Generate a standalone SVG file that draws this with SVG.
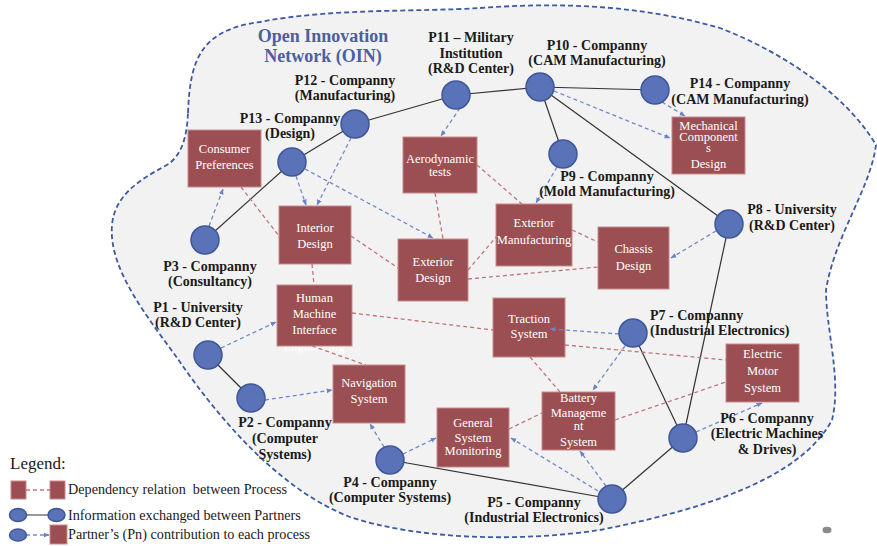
<svg xmlns="http://www.w3.org/2000/svg" width="877" height="546" viewBox="0 0 877 546">
<defs>
<style>
.box{fill:#9b4f52;stroke:#c98a8c;stroke-width:1}
.pt{fill:#5a72b8;stroke:#3f5799;stroke-width:1.5}
.lk{stroke:#333;stroke-width:1.2;fill:none}
.dep{stroke:#c27578;stroke-width:1.3;stroke-dasharray:4 3;fill:none}
.con{stroke:#7089cc;stroke-width:1.3;stroke-dasharray:4 3;fill:none;marker-end:url(#ah)}
.bt{font-family:"Liberation Serif",serif;font-size:12.5px;fill:#fff;text-anchor:middle}
.pl{font-family:"Liberation Serif",serif;font-size:14px;font-weight:bold;fill:#1a1a1a;text-anchor:middle}
.pls{text-anchor:start}
.lg{font-family:"Liberation Serif",serif;font-size:14.2px;fill:#1a1a1a}
</style>
<marker id="ah" viewBox="0 0 10 10" refX="9" refY="5" markerWidth="6" markerHeight="6" orient="auto" markerUnits="userSpaceOnUse"><path d="M0,1 L10,5 L0,9 Z" fill="#6a84c8"/></marker>
</defs>
<rect width="877" height="546" fill="#fff"/>
<path id="oin" d="M188,113 C190,60 200,30 260,22 C330,8 420,12 480,8 C560,2 640,5 720,28 C790,55 850,100 876,145 C870,190 835,235 826,290 C826,330 842,380 832,420 C800,480 700,510 600,530 C520,542 420,540 350,517 C280,490 220,420 180,362 C150,320 108,270 112,225 C115,190 150,175 170,163 C185,150 187,130 188,113 Z" fill="#f2f2f2" stroke="#3d5aa0" stroke-width="1.8" stroke-dasharray="5 3"/>
<g id="title" font-family="Liberation Serif, serif" font-size="18" font-weight="bold" fill="#4c5fa0" text-anchor="middle">
<text x="323" y="41.5">Open Innovation</text>
<text x="323" y="61.5">Network (OIN)</text>
</g>
<g id="processes">
<g id="consumer"><rect class="box" x="188" y="130" width="73" height="57"/><text class="bt" x="224.5" y="153">Consumer</text><text class="bt" x="224.5" y="169">Preferences</text></g>
<g id="aero"><rect class="box" x="403" y="137" width="74" height="56"/><text class="bt" x="440" y="163">Aerodynamic</text><text class="bt" x="440" y="176">tests</text></g>
<g id="mech"><rect class="box" x="672" y="117" width="73" height="57"/><text class="bt" x="708.5" y="130">Mechanical</text><text class="bt" x="708.5" y="141">Component</text><text class="bt" x="708.5" y="152">s</text><text class="bt" x="708.5" y="168">Design</text></g>
<g id="interior"><rect class="box" x="279" y="206" width="72" height="58"/><text class="bt" x="315" y="232">Interior</text><text class="bt" x="315" y="248">Design</text></g>
<g id="extdesign"><rect class="box" x="398" y="239" width="70" height="62"/><text class="bt" x="433" y="266">Exterior</text><text class="bt" x="433" y="282">Design</text></g>
<g id="extmanuf"><rect class="box" x="496" y="204" width="76" height="62"/><text class="bt" x="534" y="227">Exterior</text><text class="bt" x="534" y="244">Manufacturing</text></g>
<g id="chassis"><rect class="box" x="598" y="227" width="71" height="62"/><text class="bt" x="633.5" y="253">Chassis</text><text class="bt" x="633.5" y="270">Design</text></g>
<g id="hmi"><text class="bt" x="314" y="351">Engineering</text><rect class="box" x="277" y="285" width="75" height="61"/><text class="bt" x="314.5" y="302">Human</text><text class="bt" x="314.5" y="318">Machine</text><text class="bt" x="314.5" y="334">Interface</text></g>
<g id="navigation"><rect class="box" x="333" y="365" width="72" height="58"/><text class="bt" x="369" y="387">Navigation</text><text class="bt" x="369" y="403">System</text></g>
<g id="traction"><rect class="box" x="493" y="298" width="72" height="59"/><text class="bt" x="529" y="323">Traction</text><text class="bt" x="529" y="338">System</text></g>
<g id="motor"><rect class="box" x="726" y="344" width="73" height="58"/><text class="bt" x="762.5" y="358">Electric</text><text class="bt" x="762.5" y="375">Motor</text><text class="bt" x="762.5" y="392">System</text></g>
<g id="gsm"><rect class="box" x="437" y="408" width="72" height="59"/><text class="bt" x="473" y="427">General</text><text class="bt" x="473" y="442">System</text><text class="bt" x="473" y="455">Monitoring</text></g>
<g id="bms"><rect class="box" x="542" y="392" width="73" height="58"/><text class="bt" x="578.5" y="402">Battery</text><text class="bt" x="578.5" y="417">Manageme</text><text class="bt" x="578.5" y="430">nt</text><text class="bt" x="578.5" y="446">System</text></g>
</g>
<g id="connectors">
<g id="info-links">
<line class="lk" x1="205" y1="240" x2="292" y2="162"/>
<line class="lk" x1="292" y1="162" x2="355" y2="124"/>
<line class="lk" x1="355" y1="124" x2="456" y2="95"/>
<line class="lk" x1="456" y1="95" x2="540" y2="87"/>
<line class="lk" x1="540" y1="87" x2="655" y2="90"/>
<line class="lk" x1="540" y1="87" x2="563" y2="154"/>
<line class="lk" x1="540" y1="87" x2="729" y2="224"/>
<line class="lk" x1="729" y1="224" x2="683" y2="438"/>
<line class="lk" x1="633" y1="333" x2="683" y2="438"/>
<line class="lk" x1="683" y1="438" x2="612" y2="499"/>
<line class="lk" x1="612" y1="499" x2="390" y2="460"/>
<line class="lk" x1="208" y1="355" x2="251" y2="398"/>
</g>
<g id="dependencies">
<line class="dep" x1="241" y1="187" x2="279" y2="236"/>
<line class="dep" x1="351" y1="236" x2="398" y2="268"/>
<line class="dep" x1="312" y1="264" x2="314" y2="285"/>
<line class="dep" x1="435" y1="193" x2="443" y2="239"/>
<line class="dep" x1="477" y1="165" x2="522" y2="204"/>
<line class="dep" x1="468" y1="270" x2="497" y2="236"/>
<line class="dep" x1="468" y1="279" x2="598" y2="267"/>
<line class="dep" x1="572" y1="230" x2="598" y2="242"/>
<line class="dep" x1="352" y1="313" x2="493" y2="330"/>
<line class="dep" x1="312" y1="346" x2="366" y2="365"/>
<line class="dep" x1="565" y1="345" x2="726" y2="360"/>
<line class="dep" x1="530" y1="357" x2="560" y2="392"/>
<line class="dep" x1="615" y1="420" x2="726" y2="382"/>
<line class="dep" x1="509" y1="429" x2="542" y2="413"/>
</g>
<g id="contributions">
<line class="con" x1="209" y1="226" x2="223" y2="189"/>
<line class="con" x1="296" y1="176" x2="306" y2="205"/>
<line class="con" x1="305" y1="169" x2="433" y2="238"/>
<line class="con" x1="351" y1="138" x2="317" y2="205"/>
<line class="con" x1="460" y1="108" x2="441" y2="136"/>
<line class="con" x1="554" y1="91" x2="670" y2="138"/>
<line class="con" x1="662" y1="102" x2="685" y2="116"/>
<line class="con" x1="557" y1="167" x2="536" y2="203"/>
<line class="con" x1="716" y1="231" x2="671" y2="258"/>
<line class="con" x1="221" y1="348" x2="276" y2="322"/>
<line class="con" x1="265" y1="400" x2="332" y2="390"/>
<line class="con" x1="384" y1="447" x2="370" y2="424"/>
<line class="con" x1="403" y1="454" x2="436" y2="438"/>
<line class="con" x1="598" y1="491" x2="511" y2="438"/>
<line class="con" x1="606" y1="486" x2="580" y2="451"/>
<line class="con" x1="619" y1="334" x2="550" y2="329"/>
<line class="con" x1="625" y1="346" x2="593" y2="390"/>
<line class="con" x1="696" y1="432" x2="762" y2="403"/>
</g>
</g>
<g id="partners">
<g id="p1"><circle class="pt" cx="208" cy="355" r="14"/><text class="pl" x="198" y="312">P1 - University</text><text class="pl" x="198" y="327">(R&amp;D Center)</text></g>
<g id="p2"><circle class="pt" cx="251" cy="398" r="14"/><text class="pl" x="285" y="427">P2 - Companny</text><text class="pl" x="285" y="443">(Computer</text><text class="pl" x="285" y="459">Systems)</text></g>
<g id="p3"><circle class="pt" cx="205" cy="240" r="14"/><text class="pl" x="210" y="271">P3 - Companny</text><text class="pl" x="210" y="286">(Consultancy)</text></g>
<g id="p4"><circle class="pt" cx="390" cy="460" r="14"/><text class="pl" x="390" y="487">P4 - Companny</text><text class="pl" x="390" y="502">(Computer Systems)</text></g>
<g id="p5"><circle class="pt" cx="612" cy="499" r="14"/><text class="pl" x="534" y="507">P5 - Companny</text><text class="pl" x="534" y="522">(Industrial Electronics)</text></g>
<g id="p6"><circle class="pt" cx="683" cy="438" r="14"/><text class="pl" x="767" y="423">P6 - Companny</text><text class="pl" x="767" y="438">(Electric Machines</text><text class="pl" x="767" y="454">&amp; Drives)</text></g>
<g id="p7"><circle class="pt" cx="633" cy="333" r="14"/><text class="pl pls" x="650" y="320">P7 - Companny</text><text class="pl pls" x="650" y="335">(Industrial Electronics)</text></g>
<g id="p8"><circle class="pt" cx="729" cy="224" r="14"/><text class="pl" x="792" y="214">P8 - University</text><text class="pl" x="792" y="230">(R&amp;D Center)</text></g>
<g id="p9"><circle class="pt" cx="563" cy="154" r="14"/><text class="pl" x="607" y="181">P9 - Companny</text><text class="pl" x="607" y="196">(Mold Manufacturing)</text></g>
<g id="p10"><circle class="pt" cx="540" cy="87" r="14"/><text class="pl" x="597" y="50">P10 - Companny</text><text class="pl" x="597" y="65">(CAM Manufacturing)</text></g>
<g id="p11"><circle class="pt" cx="456" cy="95" r="14"/><text class="pl" x="471" y="42">P11 – Military</text><text class="pl" x="471" y="57.5">Institution</text><text class="pl" x="471" y="73">(R&amp;D Center)</text></g>
<g id="p12"><circle class="pt" cx="355" cy="124" r="14"/><text class="pl" x="345" y="85">P12 - Companny</text><text class="pl" x="345" y="100">(Manufacturing)</text></g>
<g id="p13"><circle class="pt" cx="292" cy="162" r="14"/><text class="pl" x="290" y="123">P13 - Companny</text><text class="pl" x="290" y="138">(Design)</text></g>
<g id="p14"><circle class="pt" cx="655" cy="90" r="14"/><text class="pl" x="740" y="88">P14 - Companny</text><text class="pl" x="740" y="104">(CAM Manufacturing)</text></g>
</g>
<g id="legend">
<text x="10" y="469" font-family="Liberation Serif, serif" font-size="17" fill="#1a1a1a">Legend:</text>
<rect class="box" x="11" y="481" width="15" height="18"/>
<rect class="box" x="50" y="481" width="15" height="18"/>
<line class="dep" x1="26" y1="490" x2="50" y2="490"/>
<text class="lg" x="68" y="494" xml:space="preserve">Dependency relation  between Process</text>
<line class="lk" x1="18" y1="515" x2="57" y2="515"/>
<ellipse class="pt" cx="18" cy="515" rx="8.5" ry="6.5"/>
<ellipse class="pt" cx="56.5" cy="515" rx="8.5" ry="6.5"/>
<text class="lg" x="68" y="520">Information exchanged between Partners</text>
<line class="con" x1="26" y1="535" x2="49" y2="535"/>
<ellipse class="pt" cx="18" cy="535" rx="8.5" ry="6"/>
<rect class="box" x="50" y="525" width="17" height="19"/>
<text class="lg" x="68" y="539">Partner’s (Pn) contribution to each process</text>
</g>
<ellipse cx="827" cy="530" rx="4.5" ry="3.2" fill="#8a8a8a"/>
</svg>
